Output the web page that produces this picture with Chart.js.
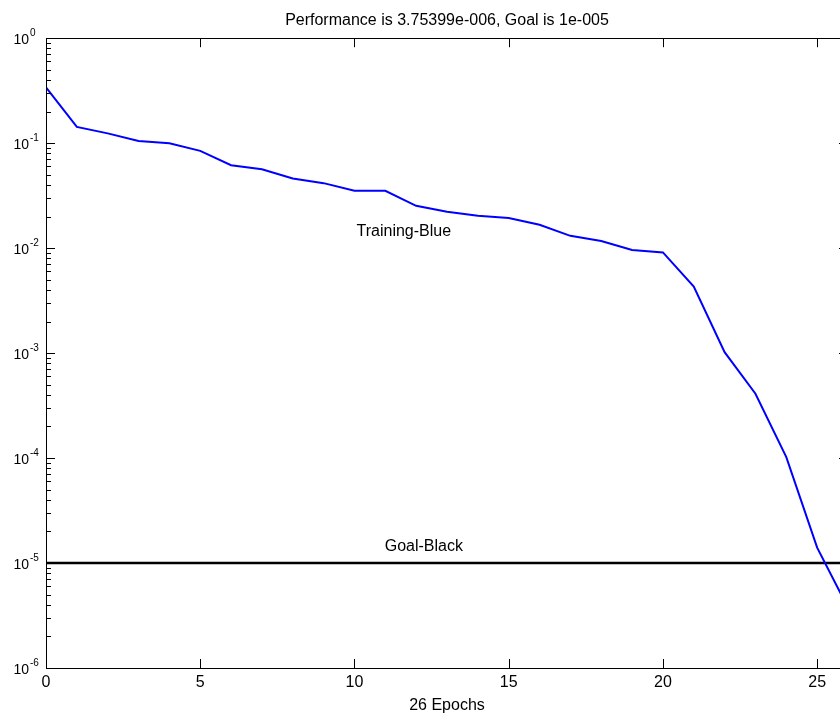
<!DOCTYPE html>
<html lang="en">
<head>
    <meta charset="UTF-8">
    <script src="https://cdn.jsdelivr.net/npm/chart.js"></script>
    <title>Training Performance</title>
    <style>
        body {
            margin: 0;
            overflow: hidden;
            background: #fff;
        }

        /* the right edge of the axes sits a few pixels past the window, like the original */
        #wrap {
            width: 850px;
            height: 715px;
        }
    </style>
</head>
<body>
    <div id="wrap">
        <canvas id="perfChart"></canvas>
    </div>
</body>
<script>
    // epochs and training error
    const epochs = [0, 1, 2, 3, 4, 5, 6, 7, 8, 9, 10, 11, 12, 13, 14, 15, 16, 17, 18, 19, 20, 21, 22, 23, 24, 25, 26];
    const performance = [0.34, 0.143, 0.124, 0.105, 0.1, 0.0845, 0.0617, 0.0565, 0.0461, 0.0416, 0.0352, 0.0352,
        0.0253, 0.0222, 0.0203, 0.0194, 0.0167, 0.0131, 0.0117, 0.0096, 0.0091, 0.0043, 0.00102, 0.00041,
        0.000102, 0.000014, 0.00000375399];
    const goal = 1e-5;
    const xTicks = [0, 5, 10, 15, 20, 25];
    const yExponents = [-6, -5, -4, -3, -2, -1, 0];
    const titleText = 'Performance is 3.75399e-006, Goal is 1e-005';
    const xLabel = '26 Epochs';
    // text labels placed in data coordinates
    const notes = [
        {text: 'Training-Blue', x: 11.6, y: 0.0145},
        {text: 'Goal-Black', x: 12.25, y: 1.45e-5}
    ];

    const FONT = '"Liberation Sans", Arial, sans-serif';

    // box, inward ticks, y labels as 10^n and the text notes
    const axesDecor = {
        id: 'axesDecor',
        afterDatasetsDraw(chart) {
            const ctx = chart.ctx;
            const {left, right, top, bottom} = chart.chartArea;
            const xs = chart.scales.x, ys = chart.scales.y;
            ctx.save();
            ctx.strokeStyle = '#000';
            ctx.lineWidth = 1;
            ctx.strokeRect(Math.round(left) + 0.5, Math.round(top) + 0.5, Math.round(right - left), Math.round(bottom - top));

            ctx.beginPath();
            xTicks.forEach(v => {
                const px = Math.round(xs.getPixelForValue(v)) + 0.5;
                ctx.moveTo(px, bottom); ctx.lineTo(px, bottom - 9);
                ctx.moveTo(px, top); ctx.lineTo(px, top + 9);
            });
            yExponents.forEach(e => {
                const py = Math.round(ys.getPixelForValue(Math.pow(10, e))) + 0.5;
                ctx.moveTo(left, py); ctx.lineTo(left + 9, py);
                ctx.moveTo(right, py); ctx.lineTo(right - 9, py);
                if (e < 0) {
                    for (let m = 2; m <= 9; m++) {
                        const my = Math.round(ys.getPixelForValue(m * Math.pow(10, e))) + 0.5;
                        ctx.moveTo(left, my); ctx.lineTo(left + 5, my);
                        ctx.moveTo(right, my); ctx.lineTo(right - 5, my);
                    }
                }
            });
            ctx.stroke();

            ctx.fillStyle = '#000';
            yExponents.forEach(e => {
                const py = ys.getPixelForValue(Math.pow(10, e));
                ctx.font = '14px ' + FONT;
                ctx.textAlign = 'right';
                ctx.textBaseline = 'alphabetic';
                ctx.fillText('10', 29, py + 6);
                ctx.font = '10px ' + FONT;
                ctx.textAlign = 'left';
                ctx.fillText(String(e), 30, py - 2);
            });

            ctx.font = '16px ' + FONT;
            ctx.textAlign = 'center';
            ctx.textBaseline = 'middle';
            notes.forEach(n => {
                ctx.fillText(n.text, xs.getPixelForValue(n.x), ys.getPixelForValue(n.y));
            });
            ctx.restore();
        }
    };

    const chart = new Chart(document.getElementById('perfChart'), {
        type: 'line',
        data: {
            datasets: [
                {
                    label: 'Training',
                    data: epochs.map((e, i) => ({x: e, y: performance[i]})),
                    borderColor: '#0000ff',
                    borderWidth: 2,
                    pointRadius: 0,
                    tension: 0
                },
                {
                    label: 'Goal',
                    data: [{x: epochs[0], y: goal}, {x: epochs[epochs.length - 1], y: goal}],
                    borderColor: '#000',
                    borderWidth: 2.5,
                    pointRadius: 0
                }
            ]
        },
        options: {
            responsive: true,
            maintainAspectRatio: false,
            animation: false,
            layout: {padding: {left: 0, right: 2, top: 0, bottom: 0}},
            plugins: {
                legend: {display: false},
                tooltip: {enabled: false},
                title: {
                    display: true,
                    text: titleText,
                    fullSize: false,
                    color: '#000',
                    font: {family: FONT, size: 16, weight: 'normal'},
                    padding: {top: 11, bottom: 8}
                }
            },
            scales: {
                x: {
                    type: 'linear',
                    min: 0,
                    max: 26,
                    grid: {display: false, drawTicks: false},
                    border: {display: false},
                    afterBuildTicks: s => { s.ticks = xTicks.map(v => ({value: v})); },
                    afterFit: s => { s.height = 47; },
                    ticks: {color: '#000', font: {family: FONT, size: 16}, padding: 5, maxRotation: 0},
                    title: {display: true, text: xLabel, color: '#000', font: {family: FONT, size: 16}, padding: {top: 0, bottom: 0}}
                },
                y: {
                    type: 'logarithmic',
                    min: 1e-6,
                    max: 1,
                    grid: {display: false, drawTicks: false},
                    border: {display: false},
                    afterBuildTicks: s => { s.ticks = yExponents.map(e => ({value: Math.pow(10, e)})); },
                    afterFit: s => { s.width = 46; },
                    ticks: {display: false}
                }
            }
        },
        plugins: [axesDecor]
    });
</script>
</html>
